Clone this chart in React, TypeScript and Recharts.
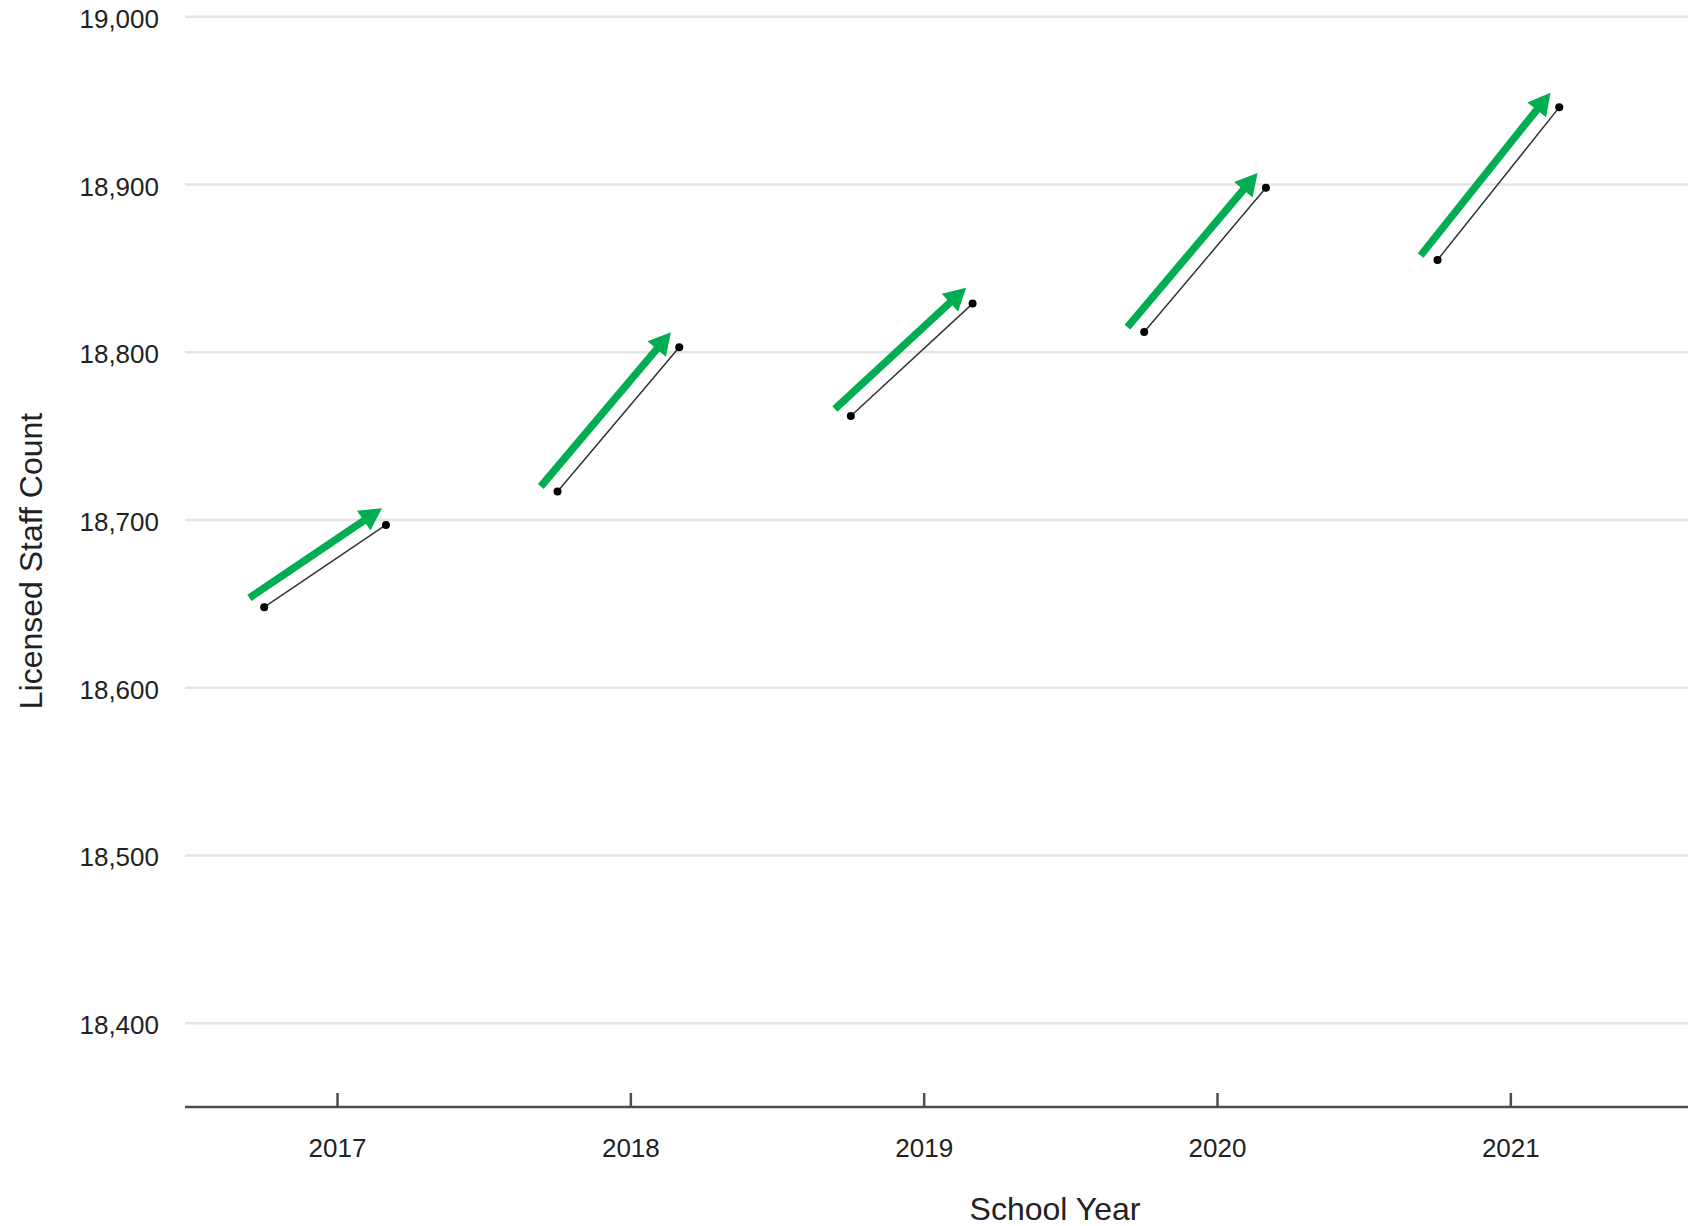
import { LineChart, Line, XAxis, YAxis, CartesianGrid, ReferenceLine } from "recharts";

const years = [2017, 2018, 2019, 2020, 2021];
const startCounts = [18648, 18717, 18762, 18812, 18855];
const endCounts = [18697, 18803, 18829, 18898, 18946];
const yTicks = [18400, 18500, 18600, 18700, 18800, 18900, 19000];

const FONT = '"Liberation Sans", Arial, sans-serif';
const GREEN = "#00ad50";
const TEXT = "#222";
// how far each segment reaches either side of its year
const LEFT = 0.25;
const RIGHT = 0.165;

const segments = years.map((year, i) => ({
  year,
  points: [
    { x: year - LEFT, y: startCounts[i] },
    { x: year + RIGHT, y: endCounts[i] },
  ],
}));

// thick green arrow drawn parallel to the black segment, nudged up-left
function GreenArrow(props: any) {
  const { x1, y1, x2, y2 } = props;
  const dx = x2 - x1;
  const dy = y2 - y1;
  const len = Math.hypot(dx, dy) || 1;
  const ux = dx / len;
  const uy = dy / len;
  const nx = uy;
  const ny = -ux;
  const off = 16;
  const sx = x1 + nx * off - ux * 7;
  const sy = y1 + ny * off - uy * 7;
  const tx = x2 + nx * off + ux * 6;
  const ty = y2 + ny * off + uy * 6;
  const head = 22;
  const half = 12;
  const bx = tx - ux * head;
  const by = ty - uy * head;
  const pts = [
    [tx, ty],
    [bx + nx * half, by + ny * half],
    [bx - nx * half, by - ny * half],
  ]
    .map((p) => p.join(","))
    .join(" ");
  return (
    <g>
      <line x1={sx} y1={sy} x2={bx + ux * 2} y2={by + uy * 2} stroke={GREEN} strokeWidth={7.5} />
      <polygon points={pts} fill={GREEN} />
    </g>
  );
}

function XTick({ x, y, payload }: any) {
  return (
    <g>
      <line x1={x} y1={y - 14} x2={x} y2={y} stroke="#4d4d4d" strokeWidth={2.5} />
      <text x={x} y={y + 50} textAnchor="middle" fontSize={26} fill={TEXT} fontFamily={FONT}>
        {payload.value}
      </text>
    </g>
  );
}

function YTick({ x, y, payload }: any) {
  return (
    <text x={x - 26} y={y + 11} textAnchor="end" fontSize={26} fill={TEXT} fontFamily={FONT}>
      {Number(payload.value).toLocaleString("en-US")}
    </text>
  );
}

export default function App() {
  return (
    <div style={{ position: "absolute", left: 0, top: 0, width: 1688, height: 1226, background: "#fff" }}>
      <LineChart width={1688} height={1226} margin={{ top: 0, right: 0, bottom: 0, left: 0 }}>
        <CartesianGrid vertical={false} syncWithTicks stroke="#e4e4e4" strokeWidth={2.5} />
        <XAxis
          dataKey="x"
          type="number"
          domain={[2016.48, 2021.604]}
          ticks={years}
          allowDataOverflow
          height={119}
          tickSize={0}
          tickMargin={0}
          tickLine={false}
          axisLine={{ stroke: "#4d4d4d", strokeWidth: 2.5 }}
          tick={<XTick />}
          label={{
            content: () => (
              <text x={1055} y={1209} textAnchor="middle" dominantBaseline="central" fontSize={32} fill={TEXT} fontFamily={FONT}>
                School Year
              </text>
            ),
          }}
        />
        <YAxis
          type="number"
          domain={[18350, 19010]}
          ticks={yTicks}
          allowDataOverflow
          width={185}
          tickSize={0}
          tickMargin={0}
          tickLine={false}
          axisLine={false}
          tick={<YTick />}
          label={{
            content: () => (
              <text
                x={31}
                y={561}
                transform="rotate(-90, 31, 561)"
                textAnchor="middle"
                dominantBaseline="central"
                fontSize={32}
                fill={TEXT}
                fontFamily={FONT}
              >
                Licensed Staff Count
              </text>
            ),
          }}
        />
        {segments.map((s) => (
          <ReferenceLine
            key={`arrow-${s.year}`}
            segment={s.points}
            ifOverflow="visible"
            shape={GreenArrow}
          />
        ))}
        {segments.map((s) => (
          <Line
            key={`seg-${s.year}`}
            data={s.points}
            dataKey="y"
            stroke="#333"
            strokeWidth={1.5}
            dot={{ r: 4, fill: "#000", stroke: "#000", strokeWidth: 0 }}
            activeDot={false}
            legendType="none"
            isAnimationActive={false}
          />
        ))}
      </LineChart>
    </div>
  );
}
